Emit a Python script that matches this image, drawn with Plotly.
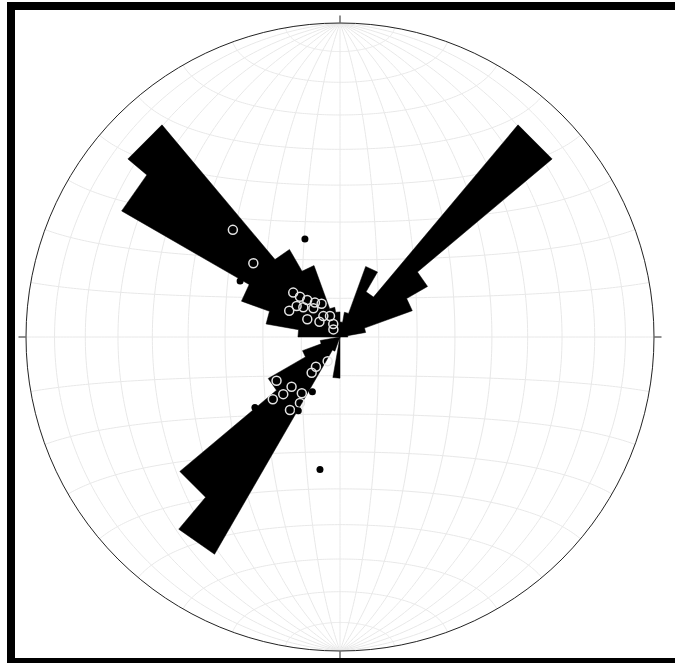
import numpy as np
import plotly.graph_objects as go

# Rose diagram: 10-degree azimuth bins, petal length in units of the net radius
rose_bin_start = list(range(0, 360, 10))
rose_length = [0.048, 0.080, 0.239, 0.166, 0.882, 0.322, 0.245, 0.083, 0.025,
               0.0, 0.0, 0.0, 0.0, 0.0, 0.0, 0.0, 0.0, 0.0,
               0.131, 0.0, 0.048, 0.799, 0.666, 0.264, 0.127, 0.064, 0.0,
               0.134, 0.239, 0.334, 0.803, 0.882, 0.322, 0.242, 0.096, 0.080]
bin_width = 10

# Linear measurements (trend / plunge, degrees) plotted as open circles
open_trend = [315.0, 310.4, 313.5, 315.2, 318.5, 323.9, 331.0, 305.6, 297.4,
              317.1, 309.0, 321.5, 298.4, 306.5, 334.5, 332.7, 319.0,
              207.1, 218.9, 218.4, 235.4, 224.2, 224.8, 214.2, 227.2, 211.3, 214.4]
open_plunge = [50.1, 60.3, 73.3, 75.3, 77.2, 79.0, 80.2, 76.2, 75.2,
               79.9, 77.8, 83.1, 80.4, 83.4, 84.0, 86.2, 87.4,
               83.0, 80.1, 78.2, 70.0, 72.0, 69.1, 72.4, 66.2, 70.0, 67.0]

# Second set plotted as filled dots
dot_trend = [340.3, 299.3, 206.7, 230.4, 209.5, 188.6]
dot_plunge = [62.9, 60.1, 74.1, 61.2, 68.0, 54.9]

grid_step = 10  # degrees between net lines


def equal_area_r(plunge_deg):
    """Normalised radial distance of a line on a lower-hemisphere equal-area net."""
    colat = np.radians(90.0 - np.asarray(plunge_deg, dtype=float))
    return np.sqrt(2.0) * np.sin(colat / 2.0)


def net_xy(lon_deg, lat_deg):
    """Lambert azimuthal projection of net coordinates, primitive radius = 1."""
    lon = np.radians(lon_deg)
    lat = np.radians(lat_deg)
    k = np.sqrt(2.0 / (1.0 + np.cos(lat) * np.cos(lon)))
    x = k * np.cos(lat) * np.sin(lon) / np.sqrt(2.0)
    y = k * np.sin(lat) / np.sqrt(2.0)
    return x, y


def to_polar(x, y):
    r = np.hypot(x, y)
    th = np.degrees(np.arctan2(x, y)) % 360.0
    return r, th


# Schmidt net: great circles through N/S and small circles about the N-S axis
grid_r, grid_t = [], []
t = np.linspace(-90, 90, 181)
for lon in range(-90 + grid_step, 90, grid_step):
    r, th = to_polar(*net_xy(np.full_like(t, lon), t))
    grid_r += list(r) + [None]
    grid_t += list(th) + [None]
for lat in range(-90 + grid_step, 90, grid_step):
    r, th = to_polar(*net_xy(t, np.full_like(t, lat)))
    grid_r += list(r) + [None]
    grid_t += list(th) + [None]

# Rose outline: each petal is a straight-edged sector from the centre
rose_r, rose_t = [], []
for start, length in zip(rose_bin_start, rose_length):
    rose_r += [length, length]
    rose_t += [start, start + bin_width]
rose_r.append(rose_r[0])
rose_t.append(rose_t[0])

fig = go.Figure()

fig.add_trace(go.Scatterpolar(
    r=grid_r, theta=grid_t, mode="lines",
    line=dict(color="#e8e8e8", width=1), connectgaps=False,
    hoverinfo="skip", showlegend=False))

fig.add_trace(go.Scatterpolar(
    r=rose_r, theta=rose_t, mode="lines", fill="toself",
    fillcolor="black", line=dict(color="black", width=0.5),
    hoverinfo="skip", showlegend=False))

fig.add_trace(go.Scatterpolar(
    r=equal_area_r(open_plunge), theta=open_trend, mode="markers",
    marker=dict(symbol="circle-open", size=9, color="#e4e4e4", line=dict(width=1.5)),
    showlegend=False))

fig.add_trace(go.Scatterpolar(
    r=equal_area_r(dot_plunge), theta=dot_trend, mode="markers",
    marker=dict(symbol="circle", size=7, color="black"),
    showlegend=False))

W, H = 675, 663
cx, cy, R = 340, 337, 314
fig.update_layout(
    width=W, height=H,
    margin=dict(l=0, r=0, t=0, b=0),
    paper_bgcolor="white",
    showlegend=False,
    polar=dict(
        domain=dict(x=[(cx - R) / W, (cx + R) / W],
                    y=[(H - cy - R) / H, (H - cy + R) / H]),
        bgcolor="white",
        radialaxis=dict(visible=False, range=[0, 1]),
        angularaxis=dict(
            rotation=90, direction="clockwise",
            showgrid=False, showline=True, linecolor="#222222", linewidth=1,
            tickmode="array", tickvals=[0, 90, 180, 270],
            ticks="outside", ticklen=7, tickcolor="#222222", tickwidth=1,
            showticklabels=False),
    ),
    shapes=[dict(type="rect", xref="paper", yref="paper",
                 x0=11 / W, x1=1.05, y0=(H - 662) / H, y1=(H - 6) / H,
                 line=dict(color="black", width=8), fillcolor="rgba(0,0,0,0)")],
)

fig.write_html("out.html")
